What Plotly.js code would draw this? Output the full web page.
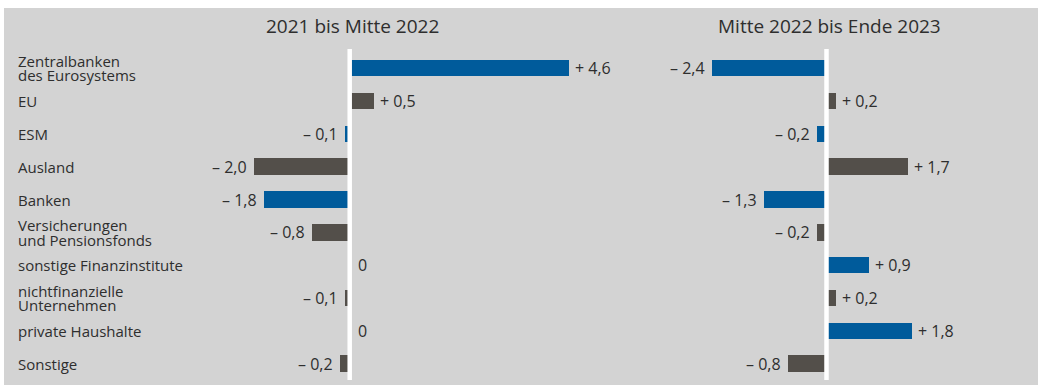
<!DOCTYPE html>
<html>
<head>
<meta charset="utf-8">
<script src="https://cdn.plot.ly/plotly-3.0.1.min.js"></script>
<style>html,body{margin:0;padding:0;background:#fff;}#chart{width:1038px;height:385px;}</style>
</head>
<body>
<div id="chart"></div>
<script>
// ---- data ----
const categories = [
  "Zentralbanken<br>des Eurosystems",
  "EU",
  "ESM",
  "Ausland",
  "Banken",
  "Versicherungen<br>und Pensionsfonds",
  "sonstige Finanzinstitute",
  "nichtfinanzielle<br>Unternehmen",
  "private Haushalte",
  "Sonstige"
];
const period1Title = "2021 bis Mitte 2022";
const period2Title = "Mitte 2022 bis Ende 2023";
const period1Values = [4.6, 0.5, -0.1, -2.0, -1.8, -0.8, 0, -0.1, 0, -0.2];
const period2Values = [-2.4, 0.2, -0.2, 1.7, -1.3, -0.2, 0.9, 0.2, 1.8, -0.8];
const highlighted = [true, false, true, false, true, false, true, false, true, false];

// ---- styling ----
const BLUE = "#005b9b", GRAY = "#534f4a", BG = "#d3d3d3", TXT = "#2e2e2e";
const FONT = "Open Sans, Noto Sans, sans-serif";
const W = 1038, H = 385;
const PXU = 47.7;             // pixels per unit
const plotTop = 49, plotBot = 380;
const colors = highlighted.map(h => h ? BLUE : GRAY);

function fmt(v) {
  if (v === 0) return "0";
  return (v > 0 ? "+ " : "\u2013 ") + Math.abs(v).toFixed(1).replace(".", ",");
}

function axisRange(d0, d1, zeroPx) {
  return [-(zeroPx - d0) / PXU, (d1 - zeroPx) / PXU];
}

const dom1 = [160, 660], zero1 = 349.7;
const dom2 = [670, 1038], zero2 = 826.5;

const traces = [
  {type: "bar", orientation: "h", x: period1Values, y: categories, xaxis: "x", yaxis: "y",
   marker: {color: colors}, width: 0.5, hoverinfo: "skip"},
  {type: "bar", orientation: "h", x: period2Values, y: categories, xaxis: "x2", yaxis: "y",
   marker: {color: colors}, width: 0.5, hoverinfo: "skip"}
];

const annotations = [];
// category labels (split into lines for tight spacing)
categories.forEach((c, i) => {
  const lines = c.split("<br>");
  lines.forEach((ln, k) => {
    const off = (lines.length - 1) / 2 - k;
    annotations.push({xref: "paper", yref: "y", x: 18 / W, y: c, text: ln, showarrow: false,
      xanchor: "left", yanchor: "middle", yshift: off * 14.5, xshift: -2,
      font: {family: FONT, size: 15, color: TXT}});
  });
});
// value labels
function addValueLabels(vals, xref) {
  vals.forEach((v, i) => {
    annotations.push({xref: xref, yref: "y", x: v, y: categories[i], text: fmt(v), showarrow: false,
      xanchor: v < 0 ? "right" : "left", yanchor: "middle",
      xshift: v < 0 ? -5 : (v === 0 ? 6 : 4),
      font: {family: FONT, size: 16, color: TXT}});
  });
}
addValueLabels(period1Values, "x");
addValueLabels(period2Values, "x2");
// panel titles
[[period1Title, "x"], [period2Title, "x2"]].forEach(([t, xr]) => {
  annotations.push({xref: xr, yref: "paper", x: 0, y: 1 - 26 / H, text: t, showarrow: false,
    xanchor: "center", yanchor: "middle", xshift: 3,
    font: {family: FONT, size: 19, color: TXT}});
});

const shapes = [
  {type: "rect", xref: "paper", yref: "paper", x0: 4 / W, x1: 1, y0: 0, y1: 1 - 8 / H,
   fillcolor: BG, line: {width: 0}, layer: "below"},
  {type: "line", xref: "x", yref: "paper", x0: 0, x1: 0, y0: 1 - plotBot / H, y1: 1 - plotTop / H,
   line: {color: "#ffffff", width: 4.5}, layer: "above"},
  {type: "line", xref: "x2", yref: "paper", x0: 0, x1: 0, y0: 1 - plotBot / H, y1: 1 - plotTop / H,
   line: {color: "#ffffff", width: 4.5}, layer: "above"}
];

const layout = {
  width: W, height: H,
  margin: {l: 0, r: 0, t: 0, b: 0},
  paper_bgcolor: "#ffffff", plot_bgcolor: "rgba(0,0,0,0)",
  showlegend: false,
  bargap: 0,
  xaxis: {domain: [dom1[0] / W, dom1[1] / W], range: axisRange(dom1[0], dom1[1], zero1),
    visible: false, fixedrange: true},
  xaxis2: {domain: [dom2[0] / W, dom2[1] / W], range: axisRange(dom2[0], dom2[1], zero2),
    visible: false, fixedrange: true},
  yaxis: {domain: [1 - plotBot / H, 1 - plotTop / H], type: "category", autorange: "reversed",
    visible: false, fixedrange: true},
  annotations: annotations,
  shapes: shapes
};

Plotly.newPlot("chart", traces, layout, {displayModeBar: false, staticPlot: true});
</script>
</body>
</html>
